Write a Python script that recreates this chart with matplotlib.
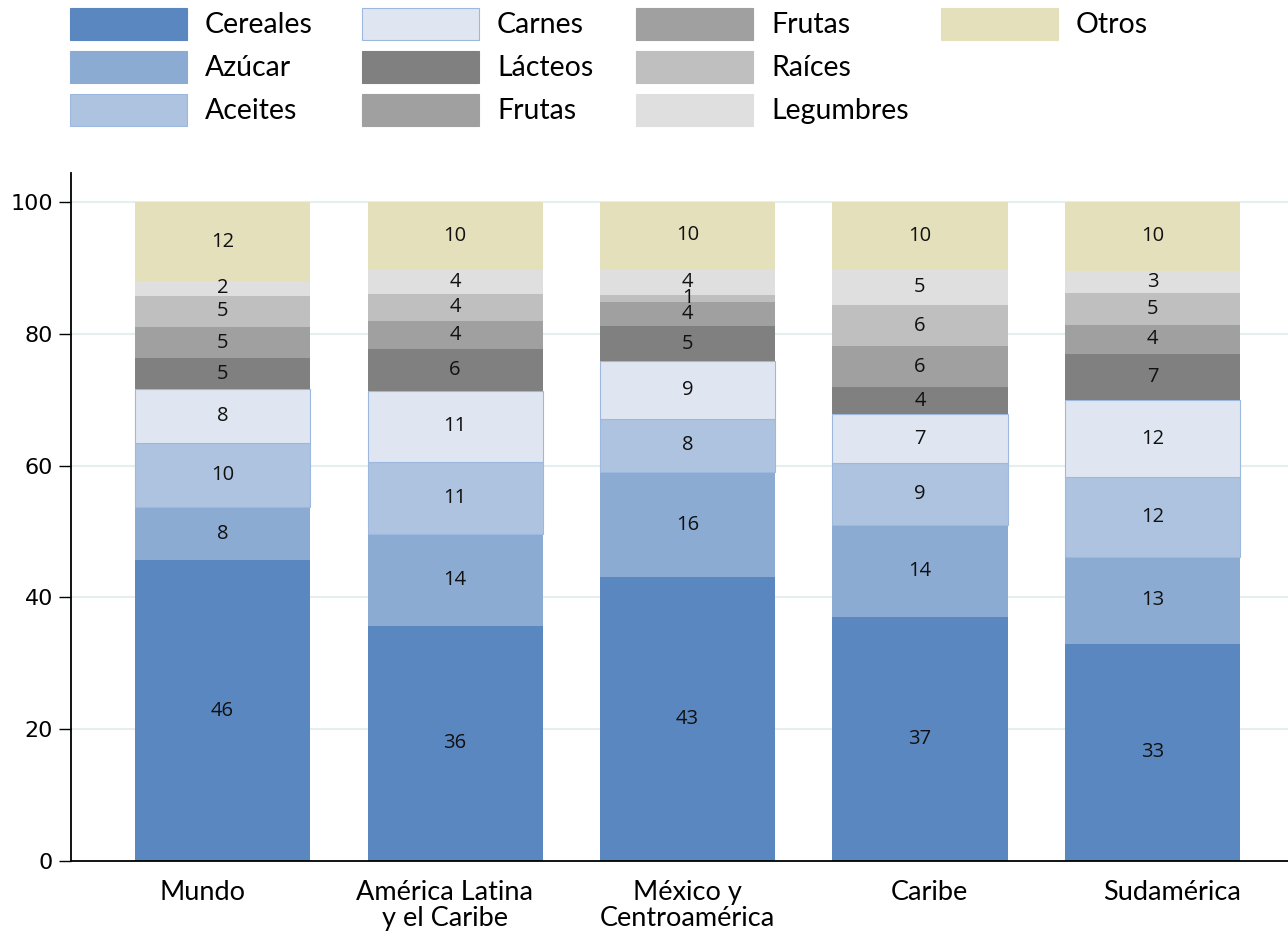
import matplotlib.pyplot as plt
import numpy as np
from matplotlib.patches import Rectangle

# data (percent of calories), bottom to top
regions = ["Mundo", "América Latina\ny el Caribe", "México y\nCentroamérica", "Caribe", "Sudamérica"]
series_names = ["Cereales", "Azúcar", "Aceites", "Carnes", "Lácteos",
                "Frutas", "Frutas", "Raíces", "Legumbres", "Otros"]
cereales = [45.6, 35.7, 43.1, 37.0, 33.0]
azucar = [8.1, 13.9, 15.9, 14.0, 13.2]
aceites = [9.8, 11.0, 8.1, 9.4, 12.1]
carnes = [8.1, 10.7, 8.7, 7.4, 11.6]
lacteos = [4.7, 6.4, 5.4, 4.1, 7.1]
frutas = [4.7, 4.3, 3.7, 6.2, 4.3]
frutas_2 = [0.0, 0.0, 0.0, 0.0, 0.0]
raices = [4.8, 4.0, 1.0, 6.3, 4.9]
legumbres = [2.2, 3.7, 4.0, 5.4, 3.4]
otros = [12.0, 10.3, 10.1, 10.2, 10.4]
yticks = [0, 20, 40, 60, 80, 100]

series = [cereales, azucar, aceites, carnes, lacteos, frutas, frutas_2, raices, legumbres, otros]
colors = ["#5B87C0", "#8CABD3", "#AEC3E0", "#DFE6F1", "#808080",
          "#A0A0A0", "#A0A0A0", "#BFBFBF", "#DFDFDF", "#E4E0BC"]
edges = [None, None, "#9DB8DE", "#9DB8DE", None, None, None, None, None, None]

fig = plt.figure(figsize=(12.88, 9.34), dpi=100)
ax = fig.add_axes([71 / 1288, 73 / 934, 1 - 71 / 1288, 688 / 934])

x = np.arange(len(regions))
bottom = np.zeros(len(regions))
for vals, col, ec in zip(series, colors, edges):
    vals = np.array(vals)
    ax.bar(x, vals, width=0.753, bottom=bottom, color=col,
           edgecolor=ec if ec else col, linewidth=0.8 if ec else 0, zorder=2)
    for xi, b, v in zip(x, bottom, vals):
        if v > 0:
            ax.text(xi, b + v / 2, f"{v:.0f}", ha="center", va="center",
                    fontsize=14.5, family="Open Sans", color="#111111", zorder=3)
    bottom += vals

ax.set_xlim(-0.652, 4.583)
ax.set_ylim(0, 104.4)
ax.set_yticks(yticks)
ax.set_yticklabels([str(t) for t in yticks], fontsize=16, family="DejaVu Sans")
ax.yaxis.grid(True, color="#E6EEF0", linewidth=1.5, zorder=0)
ax.set_axisbelow(True)

# category labels are spaced slightly wider than the bars
label_pos = -0.088 + x * 1.043
ax.set_xticks(label_pos)
ax.set_xticklabels(regions, fontsize=19.5, family="Lato", linespacing=1.05)
ax.tick_params(axis="x", length=0, pad=14)
ax.tick_params(axis="y", length=9, width=1, pad=4, direction="out")

for s in ["top", "right"]:
    ax.spines[s].set_visible(False)
ax.spines["left"].set_linewidth(1.3)
ax.spines["bottom"].set_linewidth(1.3)

# manual legend, 3 rows filled column-wise
col_x = [70, 362, 636, 941]
row_y = [8, 51, 94]
slots = [(0, 0), (0, 1), (0, 2), (1, 0), (1, 1), (1, 2), (2, 0), (2, 1), (2, 2), (3, 0)]
order = [0, 1, 2, 3, 4, 6, 5, 7, 8, 9]
for k, (c, r) in zip(order, slots):
    px, py = col_x[c], row_y[r]
    ec = edges[k] if edges[k] else colors[k]
    fig.patches.append(Rectangle((px / 1288, 1 - (py + 32) / 934), 117 / 1288, 32 / 934,
                                 transform=fig.transFigure, facecolor=colors[k],
                                 edgecolor=ec, linewidth=0.8))
    fig.text((px + 135) / 1288, 1 - (py + 17) / 934, series_names[k],
             ha="left", va="center", fontsize=20.5, family="Lato")

fig.savefig("out.png", dpi=100)
